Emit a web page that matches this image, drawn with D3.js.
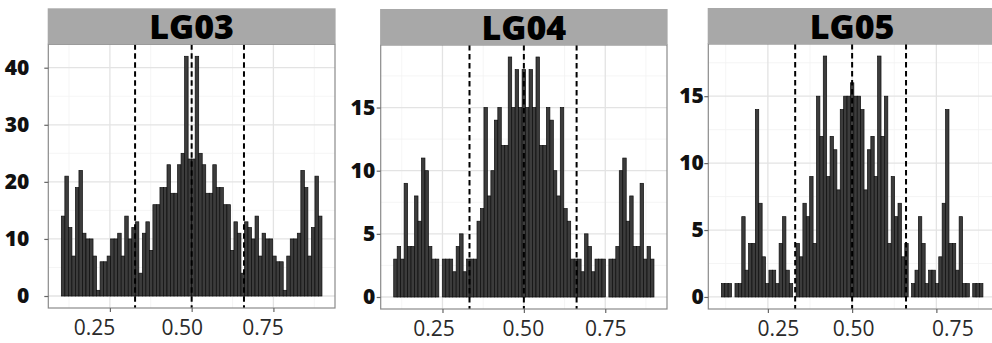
<!DOCTYPE html>
<html><head><meta charset="utf-8">
<script src="https://cdn.jsdelivr.net/npm/d3@7"></script>
<style>body{margin:0;background:#fff}svg{display:block}</style>
</head><body>
<svg id="c" width="992" height="343"></svg>
<script>
// ---- data ----
const panelNames = ["LG03", "LG04", "LG05"];
const countsLG03 = [14,21,12,7,19,22,11,10,10,7,1,6,6,7,10,10,11,7,14,10,12,13,4,11,13,8,16,16,19,19,23,18,18,23,25,42,24,
                    24,42,25,23,18,18,23,19,19,16,16,8,13,11,4,13,12,10,14,7,11,10,10,7,6,6,1,7,10,10,11,22,19,7,12,21,14];
const countsLG04 = [3,4,3,9,4,4,8,6,11,10,4,3,3,0,3,3,3,2,4,5,2,3,3,3,6,7,15,8,10,14,15,12,12,19,15,18,15,
                    18,
                    15,18,15,19,12,12,15,14,10,8,15,7,6,3,3,3,2,5,4,2,3,3,3,0,3,3,4,10,11,6,8,4,4,9,3,4,3];
const countsLG05 = [1,1,1,0,1,1,6,2,4,4,14,7,3,1,2,2,1,4,6,2,1,0,4,3,7,6,9,4,15,12,18,9,12,11,8,14,15,15,
                    16,
                    15,15,14,8,11,12,9,18,12,15,4,9,6,7,3,4,0,1,2,6,4,1,2,2,1,3,7,14,4,4,2,6,1,1,0,1,1,1];
const binStart = [0.1015, 0.1002, 0.112];
const binWidth = [0.01077, 0.01066, 0.01008];
const cutoffsLG03 = [0.327, 0.5, 0.66];
const cutoffsLG04 = [0.333, 0.5, 0.662];
const cutoffsLG05 = [0.331, 0.5, 0.66];
const xTicks = [0.25, 0.5, 0.75];
const xTickLabels = ["0.25", "0.50", "0.75"];
const yTicksLG03 = [0, 10, 20, 30, 40];
const yTicksLG04 = [0, 5, 10, 15];
const yTicksLG05 = [0, 5, 10, 15];

const allCounts = [countsLG03, countsLG04, countsLG05];
const allCutoffs = [cutoffsLG03, cutoffsLG04, cutoffsLG05];
const allYTicks = [yTicksLG03, yTicksLG04, yTicksLG05];

// ---- layout (styling) ----
const layout = [
  {left:48.3, right:335, stripTop:8.3, top:44.3, bottom:308, yPad:15, ySize:21, labelShift:[-16,-10,-11]},
  {left:380.7, right:667, stripTop:9, top:45, bottom:309, yPad:1.5, ySize:21, labelShift:[-9,-1,0]},
  {left:708.3, right:996, stripTop:8, top:44, bottom:309, yPad:0.5, ySize:21, labelShift:[10,1,16]}
];

const svg = d3.select("#c");
const FONT = "'Open Sans', 'DejaVu Sans', sans-serif";

panelNames.forEach((name, p) => {
  const L = layout[p];
  const counts = allCounts[p];
  const bw = binWidth[p];
  const x0 = binStart[p];
  const x1 = x0 + bw * counts.length;
  const xpad = (x1 - x0) * 0.05;
  const ymax = d3.max(counts);
  const x = d3.scaleLinear().domain([x0 - xpad, x1 + xpad]).range([L.left, L.right]);
  const y = d3.scaleLinear().domain([-ymax * 0.05, ymax * 1.05]).range([L.bottom, L.top]);
  const g = svg.append("g");

  g.append("rect").attr("x", L.left).attr("y", L.top)
    .attr("width", L.right - L.left).attr("height", L.bottom - L.top).attr("fill", "#fff");

  // minor gridlines
  const yT = allYTicks[p];
  const yStep = yT[1] - yT[0];
  const yMinor = [];
  for (let i = 0; i < yT.length; i++) {
    const v = yT[i] + yStep / 2;
    if (v < y.domain()[1]) yMinor.push(v);
  }
  const xMinor = [0.125, 0.375, 0.625, 0.875];
  g.selectAll(".xmin").data(xMinor).join("line")
    .attr("x1", d => x(d)).attr("x2", d => x(d)).attr("y1", L.top).attr("y2", L.bottom)
    .attr("stroke", "#f2f2f2").attr("stroke-width", 0.8);
  g.selectAll(".ymin").data(yMinor).join("line")
    .attr("x1", L.left).attr("x2", L.right).attr("y1", d => y(d)).attr("y2", d => y(d))
    .attr("stroke", "#f2f2f2").attr("stroke-width", 0.8);
  // major gridlines
  g.selectAll(".xmaj").data(xTicks).join("line")
    .attr("x1", d => x(d)).attr("x2", d => x(d)).attr("y1", L.top).attr("y2", L.bottom)
    .attr("stroke", "#e3e3e3").attr("stroke-width", 1.3);
  g.selectAll(".ymaj").data(yT).join("line")
    .attr("x1", L.left).attr("x2", L.right).attr("y1", d => y(d)).attr("y2", d => y(d))
    .attr("stroke", "#e3e3e3").attr("stroke-width", 1.3);

  // bars
  g.selectAll(".bar").data(counts).join("rect")
    .attr("x", (d, i) => x(x0 + i * bw))
    .attr("width", x(x0 + bw) - x(x0))
    .attr("y", d => y(d))
    .attr("height", d => y(0) - y(d))
    .attr("fill", "#3c3c3c").attr("stroke", "#0d0d0d").attr("stroke-width", 0.7);

  // dashed cutoff lines
  g.selectAll(".cut").data(allCutoffs[p]).join("line")
    .attr("x1", d => x(d)).attr("x2", d => x(d)).attr("y1", L.top).attr("y2", L.bottom)
    .attr("stroke", "#000").attr("stroke-width", 2).attr("stroke-dasharray", "5.5,3.5");

  // panel border
  g.append("rect").attr("x", L.left).attr("y", L.top)
    .attr("width", L.right - L.left).attr("height", L.bottom - L.top)
    .attr("fill", "none").attr("stroke", "#8a8a8a").attr("stroke-width", 1.2);

  // strip
  g.append("rect").attr("x", L.left - 0.6).attr("y", L.stripTop)
    .attr("width", L.right - L.left + 1.2).attr("height", L.top - L.stripTop)
    .attr("fill", "#a8a8a8");
  g.append("text").attr("x", (L.left + L.right) / 2).attr("y", L.top - 5.5)
    .attr("text-anchor", "middle").attr("font-family", FONT).attr("font-weight", 800)
    .attr("font-size", 34).attr("fill", "#000").text(name);

  // y axis
  const yAxis = d3.axisLeft(y).tickValues(yT).tickSize(4).tickPadding(L.yPad).tickFormat(d3.format("d"));
  const ya = g.append("g").attr("transform", `translate(${L.left},0)`).call(yAxis);
  ya.select(".domain").remove();
  ya.selectAll("line").attr("stroke", "#666").attr("stroke-width", 1.2);
  ya.selectAll("text").attr("font-family", FONT).attr("font-weight", 800)
    .attr("font-size", L.ySize).attr("fill", "#111");

  // x axis
  const xAxis = d3.axisBottom(x).tickValues(xTicks).tickSize(4).tickPadding(8)
    .tickFormat((d, i) => xTickLabels[i]);
  const xa = g.append("g").attr("transform", `translate(0,${L.bottom})`).call(xAxis);
  xa.select(".domain").remove();
  xa.selectAll("line").attr("stroke", "#666").attr("stroke-width", 1.2);
  xa.selectAll("text").attr("font-family", FONT).attr("font-weight", 400)
    .attr("font-size", 21).attr("fill", "#2a2a2a")
    .attr("dx", (d, i) => L.labelShift[i]);
});
</script>
</body></html>
